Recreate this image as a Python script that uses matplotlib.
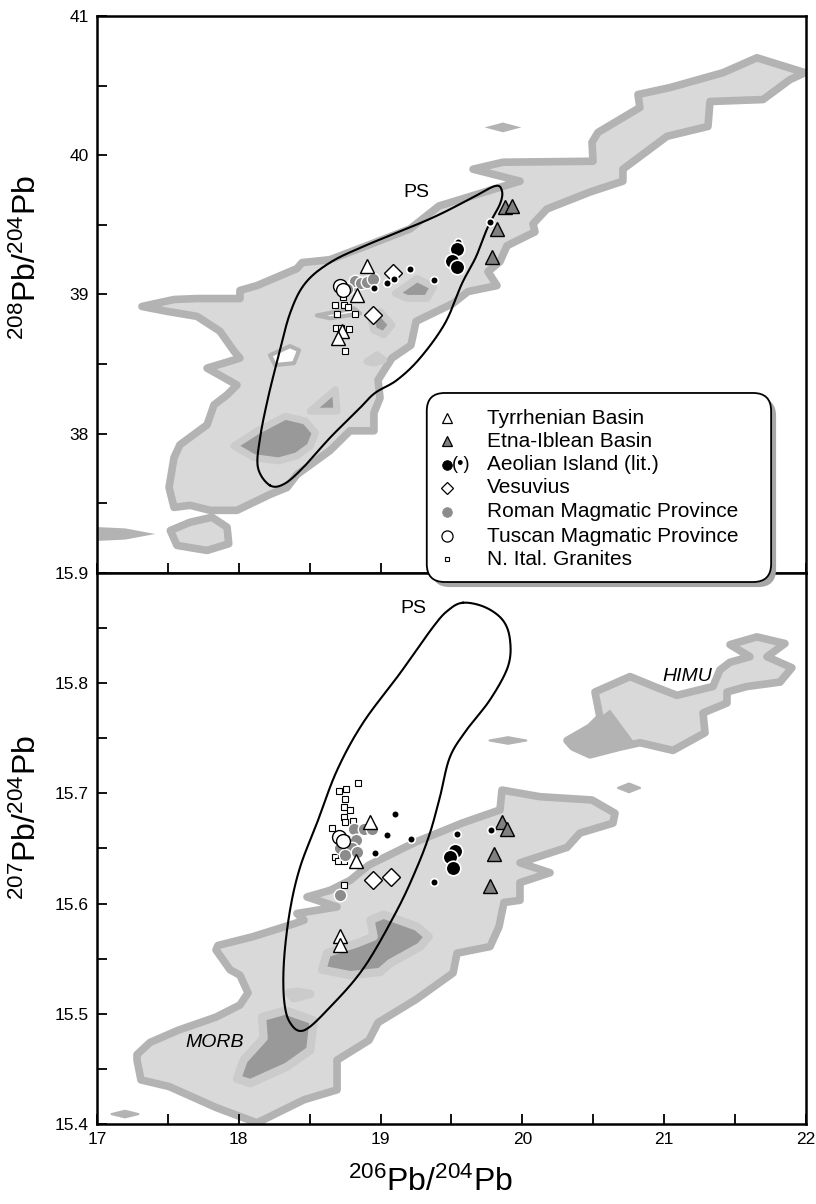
import numpy as np
import matplotlib
matplotlib.use("Agg")
import matplotlib.pyplot as plt
from matplotlib.patches import Polygon, FancyBboxPatch
from matplotlib.lines import Line2D
from matplotlib.ticker import FormatStrFormatter

plt.rcParams['font.family'] = ['Liberation Sans', 'DejaVu Sans']
plt.rcParams['mathtext.fontset'] = 'custom'
plt.rcParams['mathtext.rm'] = 'Liberation Sans'
plt.rcParams['mathtext.it'] = 'Liberation Sans:italic'

# ---------------- background fields (oceanic basalt density contours) ----------------
# upper panel: 206Pb/204Pb vs 208Pb/204Pb
top_field_x = [17.317, 17.543, 17.705, 18.008, 18.008, 18.128, 18.410, 18.446, 18.643, 18.883,
               19.207, 19.412, 19.574, 19.983, 19.652, 19.863, 20.498, 20.491, 20.533, 20.829,
               20.815, 21.041, 21.415, 21.654, 21.993, 21.887, 21.697, 21.323, 21.309, 21.020,
               20.709, 20.709, 20.477, 20.173, 20.075, 20.089, 19.891, 19.842, 19.757, 19.821,
               19.616, 19.511, 19.250, 19.214, 19.080, 18.982, 18.996, 18.953, 18.953, 18.784,
               18.643, 18.410, 18.340, 18.220, 17.987, 17.797, 17.656, 17.543, 17.508, 17.543,
               17.585, 17.776, 17.825, 17.917, 17.987, 17.776, 17.938, 18.008, 17.966, 17.867,
               17.705, 17.494]
top_field_y = [38.914, 38.964, 38.971, 38.971, 39.029, 39.064, 39.186, 39.229, 39.250, 39.343,
               39.471, 39.636, 39.686, 39.814, 39.900, 39.950, 39.957, 40.093, 40.164, 40.343,
               40.436, 40.486, 40.593, 40.700, 40.593, 40.543, 40.400, 40.386, 40.207, 40.136,
               39.900, 39.814, 39.736, 39.614, 39.507, 39.450, 39.350, 39.236, 39.164, 39.064,
               39.021, 38.936, 38.807, 38.636, 38.543, 38.386, 38.257, 38.150, 38.021, 38.021,
               37.879, 37.707, 37.614, 37.564, 37.450, 37.450, 37.486, 37.471, 37.614, 37.829,
               37.921, 38.064, 38.207, 38.279, 38.350, 38.471, 38.521, 38.543, 38.593, 38.736,
               38.843, 38.879]
top_lobe_x = [17.517, 17.658, 17.811, 17.917, 17.929, 17.776, 17.564]
top_lobe_y = [37.305, 37.365, 37.400, 37.329, 37.210, 37.162, 37.198]
top_tongue_x = [17.00, 17.20, 17.41, 17.20, 17.00]
top_tongue_y = [37.33, 37.32, 37.28, 37.24, 37.23]
top_spot_x = [19.733, 19.863, 19.993, 19.863]
top_spot_y = [40.200, 40.235, 40.200, 40.165]
top_holes = [([18.220, 18.361, 18.425, 18.389, 18.255], [38.564, 38.629, 38.600, 38.507, 38.493]),
             ([18.551, 18.812, 18.855, 18.643], [38.850, 38.900, 38.864, 38.829])]
top_cores = [([17.964, 18.128, 18.328, 18.469, 18.540, 18.504, 18.410, 18.281, 18.105],
              [37.912, 38.019, 38.126, 38.091, 38.007, 37.912, 37.841, 37.805, 37.829]),
             ([18.504, 18.681, 18.693], [38.162, 38.317, 38.162]),
             ([18.904, 18.975, 19.022, 18.951], [38.519, 38.567, 38.531, 38.507]),
             ([18.928, 18.998, 19.080, 19.022, 18.951], [38.841, 38.876, 38.781, 38.710, 38.745]),
             ([19.104, 19.257, 19.374, 19.327, 19.186], [39.007, 39.115, 39.055, 38.972, 38.972])]

# lower panel: 206Pb/204Pb vs 207Pb/204Pb
bot_field_x = [17.282, 17.374, 17.571, 17.839, 18.008, 18.065, 18.008, 17.938, 17.839, 17.853,
               18.100, 18.396, 18.460, 18.410, 18.693, 18.481, 18.643, 18.784, 18.918, 19.250,
               19.574, 19.842, 19.856, 20.124, 20.491, 20.653, 20.639, 20.406, 20.315, 19.983,
               20.195, 19.983, 19.983, 19.870, 19.835, 19.772, 19.539, 19.511, 19.250, 18.982,
               18.918, 18.693, 18.693, 18.460, 18.128, 17.839, 17.508, 17.310, 17.282]
bot_field_y = [15.463, 15.474, 15.485, 15.497, 15.508, 15.519, 15.535, 15.540, 15.558, 15.562,
               15.570, 15.582, 15.585, 15.591, 15.597, 15.606, 15.612, 15.621, 15.635, 15.656,
               15.673, 15.685, 15.703, 15.697, 15.694, 15.682, 15.673, 15.664, 15.651, 15.637,
               15.628, 15.619, 15.603, 15.601, 15.579, 15.561, 15.555, 15.537, 15.513, 15.492,
               15.476, 15.458, 15.431, 15.422, 15.401, 15.415, 15.434, 15.440, 15.458]
himu_x = [20.315, 20.477, 20.547, 20.512, 20.759, 20.949, 21.090, 21.344, 21.393, 21.464,
          21.605, 21.464, 21.654, 21.852, 21.725, 21.901, 21.817, 21.584, 21.443, 21.443,
          21.274, 21.288, 21.062, 20.829, 20.688, 20.477, 20.357]
himu_y = [15.748, 15.760, 15.769, 15.792, 15.806, 15.796, 15.789, 15.797, 15.812, 15.819,
          15.824, 15.835, 15.842, 15.836, 15.824, 15.814, 15.801, 15.797, 15.792, 15.782,
          15.773, 15.755, 15.739, 15.746, 15.742, 15.735, 15.742]
himu_low_x = [20.315, 20.477, 20.547, 20.618, 20.688, 20.780, 20.829, 20.688, 20.477]
himu_low_y = [15.748, 15.760, 15.769, 15.776, 15.764, 15.748, 15.746, 15.742, 15.735]
bot_spots = [([19.768, 19.898, 20.028, 19.898], [15.748, 15.751, 15.748, 15.745]),
             ([20.674, 20.752, 20.830, 20.752], [15.705, 15.709, 15.705, 15.701]),
             ([17.102, 17.197, 17.292, 17.197], [15.409, 15.412, 15.409, 15.406])]
bot_cores = [([17.987, 18.034, 18.175, 18.164, 18.328, 18.528, 18.504, 18.340, 18.081],
              [15.441, 15.458, 15.478, 15.497, 15.503, 15.494, 15.467, 15.452, 15.437]),
             ([18.587, 18.622, 18.834, 18.951, 18.928, 19.022, 19.257, 19.339, 19.280, 19.069, 18.998, 18.787],
              [15.540, 15.555, 15.564, 15.570, 15.585, 15.590, 15.579, 15.570, 15.561, 15.546, 15.538, 15.535]),
             ([18.352, 18.410, 18.504, 18.387], [15.519, 15.520, 15.518, 15.514])]

# ---------------- PS outlines ----------------
ps_top_x = [18.220, 18.135, 18.150, 18.206, 18.276, 18.361, 18.467, 18.643, 18.890, 19.348, 19.630,
            19.807, 19.856, 19.842, 19.757, 19.673, 19.574, 19.454, 19.278, 19.116, 18.961, 18.855,
            18.643, 18.467, 18.326]
ps_top_y = [37.629, 37.757, 37.971, 38.257, 38.543, 38.864, 39.079, 39.229, 39.350, 39.543, 39.686,
            39.779, 39.743, 39.650, 39.486, 39.271, 39.079, 38.793, 38.543, 38.386, 38.293, 38.186,
            37.971, 37.771, 37.643]
ps_bot_x = [19.581, 19.736, 19.863, 19.913, 19.898, 19.772, 19.609, 19.489, 19.419, 19.348, 19.257,
            19.116, 18.883, 18.643, 18.460, 18.361, 18.319, 18.319, 18.361, 18.432, 18.551, 18.693,
            18.876, 19.137, 19.370, 19.475]
ps_bot_y = [15.873, 15.869, 15.857, 15.839, 15.815, 15.785, 15.758, 15.733, 15.697, 15.664, 15.633,
            15.594, 15.542, 15.506, 15.485, 15.492, 15.513, 15.549, 15.594, 15.633, 15.673, 15.721,
            15.764, 15.809, 15.851, 15.866]

# ---------------- samples ----------------
# upper panel
tyr_top_x = [18.904, 18.834, 18.728, 18.700]
tyr_top_y = [39.207, 38.993, 38.736, 38.686]
etna_top_x = [19.877, 19.927, 19.821, 19.786]
etna_top_y = [39.629, 39.636, 39.471, 39.271]
aeo_top_x = [19.539, 19.504, 19.539]
aeo_top_y = [39.329, 39.243, 39.200]
aeo_lit_top_x = [19.772, 19.546, 19.207, 19.377, 19.094, 19.045, 18.953]
aeo_lit_top_y = [39.521, 39.379, 39.186, 39.107, 39.114, 39.086, 39.050]
ves_top_x = [19.087, 18.946]
ves_top_y = [39.157, 38.850]
rmp_top_x = [18.784, 18.819, 18.862, 18.904, 18.946, 18.763]
rmp_top_y = [39.057, 39.100, 39.079, 39.093, 39.114, 39.036]
tmp_top_x = [18.714, 18.735]
tmp_top_y = [39.064, 39.029]
gran_top_x = [18.678, 18.742, 18.770, 18.693, 18.819, 18.685, 18.721, 18.777, 18.749, 18.735]
gran_top_y = [38.921, 38.921, 38.907, 38.857, 38.857, 38.757, 38.757, 38.750, 38.593, 38.979]

# lower panel
tyr_bot_x = [18.925, 18.827, 18.714, 18.714]
tyr_bot_y = [15.674, 15.639, 15.571, 15.562]
etna_bot_x = [19.856, 19.891, 19.800, 19.772]
etna_bot_y = [15.674, 15.668, 15.645, 15.616]
aeo_bot_x = [19.525, 19.489, 19.511]
aeo_bot_y = [15.648, 15.642, 15.632]
aeo_lit_bot_x = [19.102, 19.045, 19.214, 18.961, 19.539, 19.779, 19.377]
aeo_lit_bot_y = [15.681, 15.662, 15.659, 15.646, 15.663, 15.667, 15.620]
ves_bot_x = [18.946, 19.073]
ves_bot_y = [15.621, 15.624]
rmp_bot_x = [18.812, 18.883, 18.939, 18.756, 18.827, 18.714, 18.798, 18.749, 18.834, 18.714]
rmp_bot_y = [15.668, 15.668, 15.668, 15.658, 15.658, 15.650, 15.650, 15.644, 15.647, 15.608]
tmp_bot_x = [18.707, 18.735]
tmp_bot_y = [15.660, 15.657]
gran_bot_x = [18.841, 18.707, 18.756, 18.749, 18.742, 18.784, 18.742, 18.749, 18.805, 18.657,
              18.678, 18.700, 18.742, 18.742]
gran_bot_y = [15.709, 15.702, 15.704, 15.695, 15.688, 15.685, 15.679, 15.674, 15.675, 15.669,
              15.642, 15.639, 15.639, 15.617]

legend_labels = ["Tyrrhenian Basin", "Etna-Iblean Basin", "Aeolian Island (lit.)", "Vesuvius",
                 "Roman Magmatic Province", "Tuscan Magmatic Province", "N. Ital. Granites"]

LIGHT = '#d9d9d9'
BAND = '#b3b3b3'
DARK = '#999999'
MID = '#cbcbcb'
TRI_GRAY = '#808080'
RMP_GRAY = '#8c8c8c'


def smooth_closed(xs, ys, n=24):
    pts = np.column_stack([xs, ys])
    P = np.vstack([pts[-1], pts, pts[0], pts[1]])
    t = np.linspace(0, 1, n, endpoint=False)[:, None]
    segs = []
    for i in range(1, len(pts) + 1):
        p0, p1, p2, p3 = P[i - 1], P[i], P[i + 1], P[i + 2]
        segs.append(0.5 * (2 * p1 + (-p0 + p2) * t + (2 * p0 - 5 * p1 + 4 * p2 - p3) * t ** 2
                           + (-p0 + 3 * p1 - 3 * p2 + p3) * t ** 3))
    out = np.vstack(segs)
    return np.vstack([out, out[:1]])


def patch(ax, xs, ys, fc, ec='none', lw=0, z=1):
    ax.add_patch(Polygon(np.column_stack([xs, ys]), closed=True, fc=fc, ec=ec, lw=lw,
                         joinstyle='round', zorder=z))


def draw_samples(ax, d):
    ax.plot(d['gran'][0], d['gran'][1], ls='none', marker='s', ms=4, mfc='white', mec='black', mew=0.8, zorder=5)
    ax.plot(d['rmp'][0], d['rmp'][1], ls='none', marker='o', ms=9, mfc=RMP_GRAY, mec='white', mew=1.0, zorder=6)
    ax.plot(d['tmp'][0], d['tmp'][1], ls='none', marker='o', ms=10, mfc='white', mec='black', mew=1.0, zorder=7)
    ax.plot(d['tyr'][0], d['tyr'][1], ls='none', marker='^', ms=10, mfc='white', mec='black', mew=1.0, zorder=7)
    ax.plot(d['etna'][0], d['etna'][1], ls='none', marker='^', ms=10, mfc=TRI_GRAY, mec='black', mew=1.0, zorder=7)
    ax.plot(d['ves'][0], d['ves'][1], ls='none', marker='D', ms=9.5, mfc='white', mec='black', mew=1.0, zorder=7)
    ax.plot(d['aeo_lit'][0], d['aeo_lit'][1], ls='none', marker='o', ms=5.5, mfc='black', mec='white', mew=1.2, zorder=7)
    ax.plot(d['aeo'][0], d['aeo'][1], ls='none', marker='o', ms=10.5, mfc='black', mec='white', mew=1.2, zorder=8)


fig = plt.figure(figsize=(8.16, 12.04), dpi=100)
ax1 = fig.add_axes([0.1189, 0.5241, 0.8688, 0.4626])
ax2 = fig.add_axes([0.1189, 0.06645, 0.8688, 0.45765])

# upper panel fields
patch(ax1, top_tongue_x, top_tongue_y, BAND)
patch(ax1, top_spot_x, top_spot_y, BAND)
patch(ax1, top_lobe_x, top_lobe_y, LIGHT, BAND, 5.5)
patch(ax1, top_field_x, top_field_y, LIGHT, BAND, 5.5)
for hx, hy in top_holes:
    patch(ax1, hx, hy, 'white', BAND, 3, z=2)
for cx, cy in top_cores:
    patch(ax1, cx, cy, DARK, MID, 5, z=2)
ps = smooth_closed(ps_top_x, ps_top_y)
ax1.plot(ps[:, 0], ps[:, 1], color='black', lw=1.5, zorder=4)
draw_samples(ax1, dict(gran=(gran_top_x, gran_top_y), rmp=(rmp_top_x, rmp_top_y),
                       tmp=(tmp_top_x, tmp_top_y), tyr=(tyr_top_x, tyr_top_y),
                       etna=(etna_top_x, etna_top_y), ves=(ves_top_x, ves_top_y),
                       aeo_lit=(aeo_lit_top_x, aeo_lit_top_y), aeo=(aeo_top_x, aeo_top_y)))
ax1.text(19.25, 39.736, "PS", fontsize=14, ha='center', va='center', zorder=9)

# lower panel fields
patch(ax2, bot_field_x, bot_field_y, LIGHT, BAND, 5.5)
patch(ax2, himu_x, himu_y, LIGHT, BAND, 5.5)
patch(ax2, himu_low_x, himu_low_y, BAND, z=2)
for sx, sy in bot_spots:
    patch(ax2, sx, sy, BAND, BAND, 1.5)
for cx, cy in bot_cores:
    patch(ax2, cx, cy, DARK, MID, 6, z=2)
ps = smooth_closed(ps_bot_x, ps_bot_y)
ax2.plot(ps[:, 0], ps[:, 1], color='black', lw=1.5, zorder=4)
draw_samples(ax2, dict(gran=(gran_bot_x, gran_bot_y), rmp=(rmp_bot_x, rmp_bot_y),
                       tmp=(tmp_bot_x, tmp_bot_y), tyr=(tyr_bot_x, tyr_bot_y),
                       etna=(etna_bot_x, etna_bot_y), ves=(ves_bot_x, ves_bot_y),
                       aeo_lit=(aeo_lit_bot_x, aeo_lit_bot_y), aeo=(aeo_bot_x, aeo_bot_y)))
ax2.text(19.228, 15.868, "PS", fontsize=14, ha='center', va='center', zorder=9)
ax2.text(21.161, 15.806, "HIMU", fontsize=14, style='italic', ha='center', va='center', zorder=9)
ax2.text(17.832, 15.474, "MORB", fontsize=14, style='italic', ha='center', va='center', zorder=9)

# axes styling
ax1.set_xlim(17, 22)
ax1.set_ylim(37, 41)
ax1.set_yticks([38, 39, 40, 41])
ax1.set_yticks([37.5, 38.5, 39.5, 40.5], minor=True)
ax2.set_xlim(17, 22)
ax2.set_ylim(15.4, 15.9)
ax2.set_yticks([15.4, 15.5, 15.6, 15.7, 15.8, 15.9])
ax2.set_yticks([15.45, 15.55, 15.65, 15.75, 15.85], minor=True)
ax2.yaxis.set_major_formatter(FormatStrFormatter('%.1f'))
for ax in (ax1, ax2):
    ax.set_xticks([17, 18, 19, 20, 21, 22])
    ax.set_xticks([17.5, 18.5, 19.5, 20.5, 21.5], minor=True)
    ax.tick_params(which='both', direction='in', top=False, right=False, width=1.3,
                   labelsize=12.5, pad=6)
    ax.tick_params(which='major', length=7)
    ax.tick_params(which='minor', length=7)
    for s in ax.spines.values():
        s.set_linewidth(1.8)
ax1.tick_params(labelbottom=False)

lab = r'$\mathregular{^{%d}Pb/^{204}Pb}$'
fig.text(0.034, 0.786, lab % 208, rotation=90, fontsize=23, ha='center', va='center')
fig.text(0.034, 0.3206, lab % 207, rotation=90, fontsize=23, ha='center', va='center')
fig.text(0.527, 0.018, lab % 206, fontsize=23, ha='center', va='center')

# legend box spanning both panels
asp = 816 / 1204
shadow = FancyBboxPatch((0.5291, 0.5124), 0.422, 0.157, boxstyle='round,pad=0,rounding_size=0.022',
                        mutation_aspect=asp, transform=fig.transFigure, fc='#a6a6a6', ec='none', zorder=10)
box = FancyBboxPatch((0.523, 0.5166), 0.422, 0.157, boxstyle='round,pad=0,rounding_size=0.022',
                     mutation_aspect=asp, transform=fig.transFigure, fc='white', ec='black', lw=1.3, zorder=11)
fig.add_artist(shadow)
fig.add_artist(box)

rows = [0.6528, 0.6337, 0.6138, 0.5947, 0.5748, 0.5548, 0.5357]
styles = [dict(marker='^', ms=7, mfc='white', mec='black', mew=0.9),
          dict(marker='^', ms=7, mfc=TRI_GRAY, mec='black', mew=0.9),
          dict(marker='o', ms=7, mfc='black', mec='black', mew=0.5),
          dict(marker='D', ms=6, mfc='white', mec='black', mew=0.9),
          dict(marker='o', ms=7, mfc=RMP_GRAY, mec=RMP_GRAY, mew=0.5),
          dict(marker='o', ms=8, mfc='white', mec='black', mew=0.9),
          dict(marker='s', ms=3.5, mfc='white', mec='black', mew=0.8)]
for yy, st, text in zip(rows, styles, legend_labels):
    fig.add_artist(Line2D([0.5478], [yy], transform=fig.transFigure, ls='none', zorder=12, **st))
    fig.text(0.5968, yy, text, fontsize=15, va='center', ha='left', zorder=12)
fig.text(0.5655, rows[2], "(•)", fontsize=13, va='center', ha='center', zorder=12)

fig.savefig("out.png", dpi=100)
